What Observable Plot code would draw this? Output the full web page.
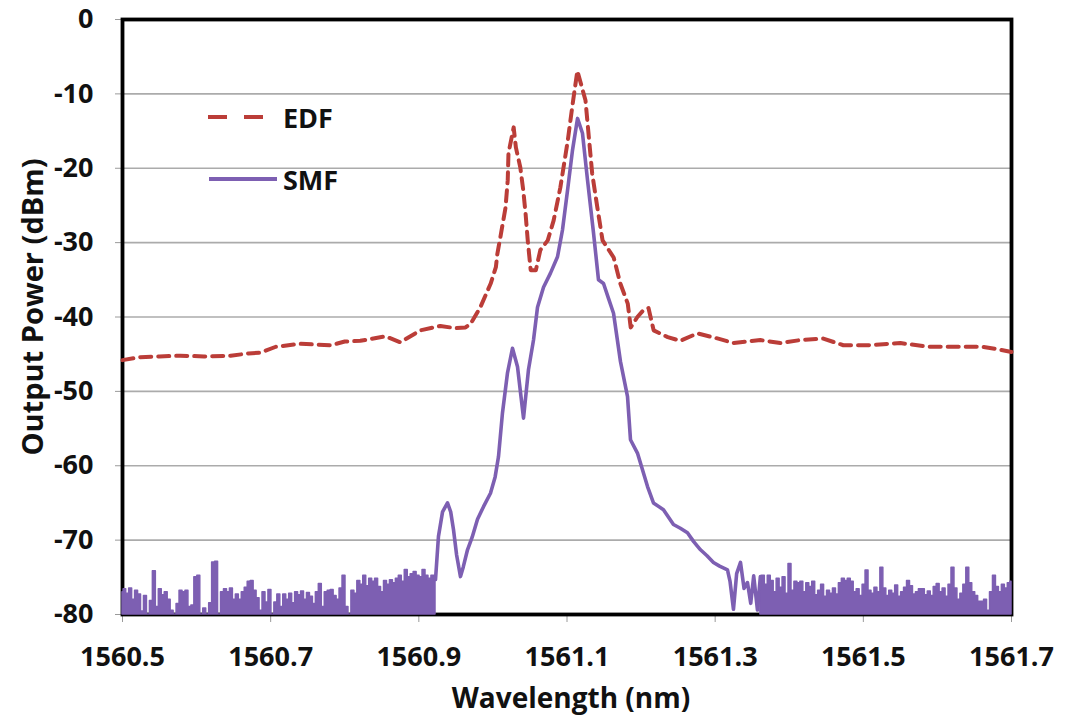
<!DOCTYPE html>
<html>
<head>
<meta charset="utf-8">
<script src="https://cdn.jsdelivr.net/npm/d3@7"></script>
<script src="https://cdn.jsdelivr.net/npm/@observablehq/plot@0.6"></script>
<style>
  html, body { margin: 0; padding: 0; background: #fff; }
  #wrap { position: relative; width: 1066px; height: 719px; font-family: "Open Sans", sans-serif; color: #111; }
  .lbl { position: absolute; font-weight: 700; font-size: 28px; white-space: nowrap; line-height: 1; }
  #ylab { left: 31px; top: 307px; transform: translate(-50%, -50%) rotate(-90deg); font-size: 29px; }
  #xlab { left: 571px; top: 697px; transform: translate(-50%, -50%); }
  .leg { position: absolute; display: flex; align-items: center; font-weight: 700; font-size: 27px; line-height: 1; }
</style>
</head>
<body>
<div id="wrap"></div>
<script>
// ---- data ----
const xTicks = [1560.5, 1560.7, 1560.9, 1561.1, 1561.3, 1561.5, 1561.7];
const yTicks = [0, -10, -20, -30, -40, -50, -60, -70, -80];
const seriesNames = ["EDF", "SMF"];

const edfWavelength = [1560.500, 1560.524, 1560.550, 1560.578, 1560.610, 1560.646, 1560.670, 1560.686, 1560.707, 1560.740,
  1560.781, 1560.800, 1560.821, 1560.855, 1560.875, 1560.902, 1560.929, 1560.949, 1560.963, 1560.970,
  1560.983, 1560.997, 1561.004, 1561.006, 1561.010, 1561.017, 1561.020, 1561.021, 1561.028, 1561.031,
  1561.037, 1561.041, 1561.044, 1561.047, 1561.051, 1561.058, 1561.064, 1561.074, 1561.082, 1561.091,
  1561.101, 1561.107, 1561.114, 1561.125, 1561.129, 1561.134, 1561.141, 1561.148, 1561.163, 1561.172,
  1561.182, 1561.186, 1561.195, 1561.203, 1561.210, 1561.217, 1561.236, 1561.253, 1561.276, 1561.300,
  1561.325, 1561.361, 1561.388, 1561.415, 1561.446, 1561.473, 1561.506, 1561.550, 1561.587, 1561.631,
  1561.660, 1561.685, 1561.700];
const edfPower = [-45.8, -45.4, -45.3, -45.2, -45.3, -45.2, -44.9, -44.8, -44.0, -43.6,
  -43.8, -43.3, -43.2, -42.6, -43.4, -41.8, -41.2, -41.5, -41.4, -40.9,
  -38.7, -35.5, -33.3, -31.5, -29.3, -25.3, -21.6, -18.0, -14.5, -17.2,
  -19.9, -23.0, -26.0, -29.7, -33.7, -33.7, -31.0, -29.7, -27.0, -22.6,
  -16.3, -11.8, -6.9, -10.9, -15.3, -20.7, -25.3, -29.7, -32.0, -35.5,
  -38.2, -41.4, -40.0, -39.1, -38.8, -41.8, -42.7, -43.2, -42.2, -42.8,
  -43.5, -43.1, -43.5, -43.1, -42.9, -43.8, -43.8, -43.5, -44.0, -44.0,
  -44.0, -44.4, -44.7];

const smfWavelength = [
  1560.500, 1560.503, 1560.507, 1560.511, 1560.515, 1560.519, 1560.523, 1560.527, 1560.531, 1560.535,
  1560.539, 1560.543, 1560.547, 1560.551, 1560.555, 1560.559, 1560.563, 1560.567, 1560.571, 1560.575,
  1560.579, 1560.583, 1560.587, 1560.591, 1560.595, 1560.599, 1560.603, 1560.607, 1560.611, 1560.615,
  1560.619, 1560.623, 1560.627, 1560.631, 1560.635, 1560.639, 1560.643, 1560.647, 1560.651, 1560.655,
  1560.659, 1560.663, 1560.667, 1560.671, 1560.675, 1560.679, 1560.683, 1560.687, 1560.691, 1560.695,
  1560.699, 1560.703, 1560.707, 1560.711, 1560.715, 1560.719, 1560.723, 1560.727, 1560.731, 1560.735,
  1560.739, 1560.743, 1560.747, 1560.751, 1560.755, 1560.759, 1560.763, 1560.767, 1560.771, 1560.775,
  1560.779, 1560.783, 1560.787, 1560.791, 1560.795, 1560.799, 1560.803, 1560.807, 1560.811, 1560.815,
  1560.819, 1560.823, 1560.827, 1560.831, 1560.835, 1560.839, 1560.843, 1560.847, 1560.851, 1560.855,
  1560.859, 1560.863, 1560.867, 1560.871, 1560.875, 1560.879, 1560.883, 1560.887, 1560.891, 1560.895,
  1560.899, 1560.903, 1560.907, 1560.911, 1560.915, 1560.919, 1560.9225,
  1560.9265, 1560.9320, 1560.9387, 1560.9430, 1560.9468, 1560.9510, 1560.9562, 1560.9600, 1560.9657, 1560.9720,
  1560.9792, 1560.9873, 1560.9967, 1561.0030, 1561.0075, 1561.0129, 1561.0197, 1561.0264, 1561.0332, 1561.0380,
  1561.0413, 1561.0450, 1561.0480, 1561.0548, 1561.0602, 1561.0683, 1561.0777, 1561.0872, 1561.0939, 1561.1007,
  1561.1074, 1561.1142, 1561.1209, 1561.1277, 1561.1358, 1561.1425, 1561.1493, 1561.1560, 1561.1628, 1561.1722,
  1561.1817, 1561.1857, 1561.1951, 1561.2087, 1561.2167, 1561.2302, 1561.2437, 1561.2530, 1561.2626, 1561.2710,
  1561.2802, 1561.2890, 1561.2977, 1561.3060, 1561.3166, 1561.3200, 1561.3247, 1561.3290, 1561.3342, 1561.3390,
  1561.3436, 1561.3480, 1561.3520, 1561.3571, 1561.3610,
  1561.365, 1561.369, 1561.373, 1561.377, 1561.381, 1561.385, 1561.389, 1561.393, 1561.397, 1561.401,
  1561.405, 1561.409, 1561.413, 1561.417, 1561.421, 1561.425, 1561.429, 1561.433, 1561.437, 1561.441,
  1561.445, 1561.449, 1561.453, 1561.457, 1561.461, 1561.465, 1561.469, 1561.473, 1561.477, 1561.481,
  1561.485, 1561.489, 1561.493, 1561.497, 1561.501, 1561.505, 1561.509, 1561.513, 1561.517, 1561.521,
  1561.525, 1561.529, 1561.533, 1561.537, 1561.541, 1561.545, 1561.549, 1561.553, 1561.557, 1561.561,
  1561.565, 1561.569, 1561.573, 1561.577, 1561.581, 1561.585, 1561.589, 1561.593, 1561.597, 1561.601,
  1561.605, 1561.609, 1561.613, 1561.617, 1561.621, 1561.625, 1561.629, 1561.633, 1561.637, 1561.641,
  1561.645, 1561.649, 1561.653, 1561.657, 1561.661, 1561.665, 1561.669, 1561.673, 1561.677, 1561.681,
  1561.685, 1561.689, 1561.693, 1561.697, 1561.700];
const smfPower = [
  -77.0, -76.6, -77.2, -76.5, -78.0, -76.8, -77.3, -79.6, -77.5, -80.0,
  -78.2, -74.2, -79.0, -76.6, -77.4, -77.0, -78.0, -79.5, -80.0, -78.6,
  -76.8, -77.0, -76.8, -79.0, -78.8, -75.0, -74.8, -80.0, -79.2, -80.0,
  -78.5, -73.0, -72.9, -80.0, -77.0, -76.6, -77.0, -76.5, -78.0, -77.3,
  -78.0, -77.0, -76.4, -75.6, -75.5, -76.8, -77.8, -79.5, -77.0, -78.4,
  -76.7, -80.0, -78.4, -77.3, -79.0, -77.3, -78.0, -77.2, -78.5, -77.0,
  -77.4, -76.9, -78.0, -77.1, -77.6, -78.6, -77.0, -75.9, -79.0, -77.0,
  -76.8, -76.7, -77.5, -78.0, -76.5, -74.8, -79.0, -80.0, -76.8, -77.2,
  -75.5, -76.0, -74.8, -76.2, -75.2, -75.6, -75.2, -76.3, -77.0, -75.5,
  -76.0, -75.4, -75.8, -75.2, -74.8, -75.6, -74.0, -75.0, -74.6, -74.3,
  -74.8, -75.0, -74.0, -74.8, -75.2, -74.8, -75.3,
  -69.5, -66.2, -65.0, -66.2, -68.6, -72.0, -74.9, -73.6, -71.3, -69.6,
  -67.2, -65.5, -63.7, -61.5, -58.8, -52.9, -47.5, -44.2, -46.7, -50.8,
  -53.6, -50.0, -47.1, -43.1, -38.7, -36.0, -34.1, -31.9, -28.3, -23.0,
  -17.6, -13.3, -15.3, -21.6, -28.7, -35.0, -35.5, -37.5, -39.5, -46.0,
  -50.7, -56.5, -58.3, -62.8, -65.0, -65.9, -67.9, -68.4, -69.0, -70.2,
  -71.3, -72.1, -73.0, -73.5, -74.0, -75.5, -79.3, -74.5, -73.0, -76.5,
  -75.7, -78.5, -74.8, -79.4, -74.9,
  -74.8, -76.0, -74.8, -75.5, -77.0, -75.2, -76.4, -75.0, -77.2, -73.2,
  -76.8, -75.6, -75.8, -75.6, -77.0, -75.8, -76.3, -75.6, -77.4, -76.8,
  -76.0, -77.6, -76.8, -77.2, -76.5, -77.3, -75.8, -75.2, -75.5, -75.2,
  -75.6, -77.0, -76.6, -77.5, -76.0, -74.1, -76.8, -77.2, -76.4, -77.0,
  -73.7, -76.5, -77.5, -76.8, -77.2, -76.1, -77.6, -77.0, -76.4, -75.5,
  -76.2, -77.3, -77.0, -76.6, -76.6, -77.4, -76.9, -77.5, -76.3, -75.9,
  -77.0, -76.5, -77.6, -76.0, -73.7, -76.5, -78.0, -77.2, -76.0, -73.7,
  -75.8, -77.0, -77.5, -78.3, -78.3, -78.0, -79.5, -77.0, -74.8, -76.3,
  -77.0, -76.0, -76.5, -75.8, -75.6];

const edfColor = "#bb3d38";
const smfColor = "#7d5fb2";

// ---- build tables ----
const edf = edfWavelength.map((w, i) => ({w, p: edfPower[i]}));
const smf = smfWavelength.map((w, i) => ({w, p: smfPower[i]}));
const noiseLeftEnd = 1560.9225, noiseRightStart = 1561.361;
const inNoise = d => d.w <= noiseLeftEnd || d.w >= noiseRightStart;
const inMain = d => d.w >= noiseLeftEnd && d.w <= noiseRightStart;

const chart = Plot.plot({
  width: 1066,
  height: 719,
  marginTop: 19,
  marginRight: 55,
  marginBottom: 105,
  marginLeft: 122,
  style: {fontFamily: "Open Sans, sans-serif", fontSize: "27px", fontWeight: 700, color: "#111", background: "#fff"},
  x: {domain: [1560.5, 1561.7]},
  y: {domain: [-80, 0]},
  marks: [
    Plot.gridY(yTicks, {stroke: "#ababab", strokeOpacity: 1, strokeWidth: 1.6}),
    Plot.axisX(xTicks, {tickSize: 8, tickPadding: 24, tickFormat: d => d.toFixed(1), label: null, stroke: "#9a9a9a", fill: "#111"}),
    Plot.axisY(yTicks, {tickSize: 7, tickPadding: 22, tickFormat: d => String(d), label: null, stroke: "#9a9a9a", fill: "#111"}),
    Plot.frame({stroke: "#000", strokeWidth: 3.8}),
    Plot.areaY(smf, {x: "w", y1: -80, y2: d => inNoise(d) ? d.p : NaN, curve: "step", fill: smfColor, stroke: smfColor, strokeWidth: 1.5}),
    Plot.line(smf, {x: "w", y: d => inMain(d) ? d.p : NaN, stroke: smfColor, strokeWidth: 3.6}),
    Plot.line(edf, {x: "w", y: "p", stroke: edfColor, strokeWidth: 4, strokeDasharray: "11,7"})
  ]
});

const wrap = document.getElementById("wrap");
wrap.appendChild(chart);

function addLabel(id, text) {
  const d = document.createElement("div");
  d.className = "lbl"; d.id = id; d.textContent = text;
  wrap.appendChild(d);
}
addLabel("ylab", "Output Power (dBm)");
addLabel("xlab", "Wavelength (nm)");

// legend
const legendSpecs = [
  {name: seriesNames[0], color: edfColor, dash: "19,17", top: 100, w: 56, lx: 208},
  {name: seriesNames[1], color: smfColor, dash: null, top: 162, w: 68, lx: 209}
];
for (const s of legendSpecs) {
  const item = document.createElement("div");
  item.className = "leg";
  item.style.left = s.lx + "px";
  item.style.top = s.top + "px";
  item.style.height = "34px";
  const svgNS = "http://www.w3.org/2000/svg";
  const sv = document.createElementNS(svgNS, "svg");
  sv.setAttribute("width", s.w); sv.setAttribute("height", 34);
  const ln = document.createElementNS(svgNS, "line");
  ln.setAttribute("x1", 0); ln.setAttribute("x2", s.w);
  ln.setAttribute("y1", 17); ln.setAttribute("y2", 17);
  ln.setAttribute("stroke", s.color); ln.setAttribute("stroke-width", 4);
  if (s.dash) ln.setAttribute("stroke-dasharray", s.dash);
  sv.appendChild(ln);
  item.appendChild(sv);
  const t = document.createElement("span");
  t.textContent = s.name;
  t.style.marginLeft = (283 - s.lx - s.w) + "px";
  item.appendChild(t);
  wrap.appendChild(item);
}
</script>
</body>
</html>
